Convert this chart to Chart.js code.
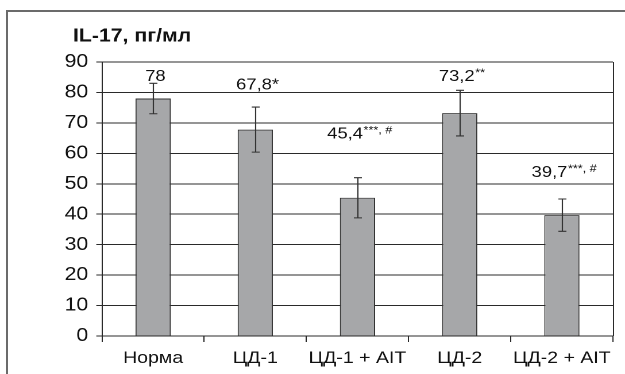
<!DOCTYPE html>
<html>
<head>
<meta charset="utf-8">
<script src="https://cdn.jsdelivr.net/npm/chart.js@4/dist/chart.umd.min.js"></script>
<style>
  html, body { margin: 0; padding: 0; background: #fff; width: 625px; height: 374px; overflow: hidden; }
  #frame { position: absolute; left: 6px; top: 10px; width: 700px; height: 400px; border: 2px solid #6b6b6b; box-sizing: border-box; }
  /* the figure is set slightly wide, so the canvas is drawn narrow and stretched */
  #wrap { position: absolute; left: 0; top: 0; width: 544px; height: 374px; transform: scaleX(1.1489); transform-origin: 0 0; }
</style>
</head>
<body>
<div id="frame"></div>
<div id="wrap"><canvas id="chart" width="544" height="374"></canvas></div>
<script>
const groups = ["Норма", "ЦД-1", "ЦД-1 + AIT", "ЦД-2", "ЦД-2 + AIT"];
const means = [78, 67.8, 45.4, 73.2, 39.7];
const errors = [5, 7.4, 6.6, 7.5, 5.3];
const valueText = ["78", "67,8*", "45,4", "73,2", "39,7"];
const markText = ["", "", "***, #", "**", "***, #"];
const yTicks = [0, 10, 20, 30, 40, 50, 60, 70, 80, 90];

const FONT = "'Liberation Sans', Arial, sans-serif";
const INK = "#111";

// Error whiskers, the value captions with their significance marks,
// the closing right edge of the plot box and the heading.
const overlay = {
  id: "overlay",
  afterDatasetsDraw(chart, args, opts) {
    const { ctx, chartArea, scales: { x, y } } = chart;
    ctx.save();
    ctx.strokeStyle = "#2a2a2a";
    ctx.lineWidth = 1;
    ctx.beginPath();
    ctx.moveTo(chartArea.right + 0.5, chartArea.top);
    ctx.lineTo(chartArea.right + 0.5, chartArea.bottom);
    ctx.stroke();

    ctx.strokeStyle = "#333";
    ctx.lineWidth = 1.1;
    means.forEach((m, i) => {
      const cx = Math.round(x.getPixelForValue(i)) + 0.5;
      const hi = y.getPixelForValue(m + errors[i]);
      const lo = y.getPixelForValue(m - errors[i]);
      ctx.beginPath();
      ctx.moveTo(cx, hi); ctx.lineTo(cx, lo);
      ctx.moveTo(cx - 3.5, hi); ctx.lineTo(cx + 3.5, hi);
      ctx.moveTo(cx - 3.5, lo); ctx.lineTo(cx + 3.5, lo);
      ctx.stroke();
    });

    ctx.fillStyle = INK;
    ctx.textBaseline = "alphabetic";
    ctx.textAlign = "left";
    means.forEach((m, i) => {
      const main = valueText[i], sup = markText[i];
      ctx.font = `16px ${FONT}`;
      const w1 = ctx.measureText(main).width;
      ctx.font = `11px ${FONT}`;
      const w2 = sup ? ctx.measureText(sup).width + 0.5 : 0;
      const left = x.getPixelForValue(i) - (w1 + w2) / 2 + 2;
      const base = y.getPixelForValue(opts.labelAt[i]);
      ctx.font = `16px ${FONT}`;
      ctx.fillText(main, left, base);
      if (sup) {
        ctx.font = `11px ${FONT}`;
        ctx.fillText(sup, left + w1 + 0.5, base - 5);
      }
    });

    ctx.font = `bold 18.5px ${FONT}`;
    ctx.fillText("IL-17, пг/мл", 63.5, 41.5);
    ctx.restore();
  },
};

new Chart(document.getElementById("chart"), {
  type: "bar",
  data: {
    labels: groups,
    datasets: [{
      data: means,
      backgroundColor: "#a6a7a9",
      borderColor: "#333",
      borderWidth: 1,
      barPercentage: 0.345,
      categoryPercentage: 1,
    }],
  },
  options: {
    responsive: false,
    animation: false,
    devicePixelRatio: 2,
    layout: { padding: { top: 62, right: 10.5, left: 0, bottom: 0 } },
    plugins: {
      legend: { display: false },
      tooltip: { enabled: false },
      overlay: { labelAt: [83.8, 81, 64.9, 83.8, 52.3] },
    },
    scales: {
      x: {
        offset: true,
        grid: { offset: true, drawOnChartArea: false, tickLength: 6, color: "#2a2a2a" },
        border: { color: "#2a2a2a", width: 1 },
        ticks: { color: INK, font: { family: FONT, size: 17 }, padding: 6, maxRotation: 0, autoSkip: false },
        afterFit: (s) => { s.height = 38; },
      },
      y: {
        min: 0,
        max: 90,
        afterBuildTicks: (s) => { s.ticks = yTicks.map((v) => ({ value: v })); },
        grid: { color: "#2a2a2a", tickLength: 5, lineWidth: 1 },
        border: { color: "#2a2a2a", width: 1 },
        ticks: { color: INK, font: { family: FONT, size: 18.5 }, padding: 7 },
        afterFit: (s) => { s.width = 88.8; },
      },
    },
  },
  plugins: [overlay],
});
</script>
</body>
</html>
